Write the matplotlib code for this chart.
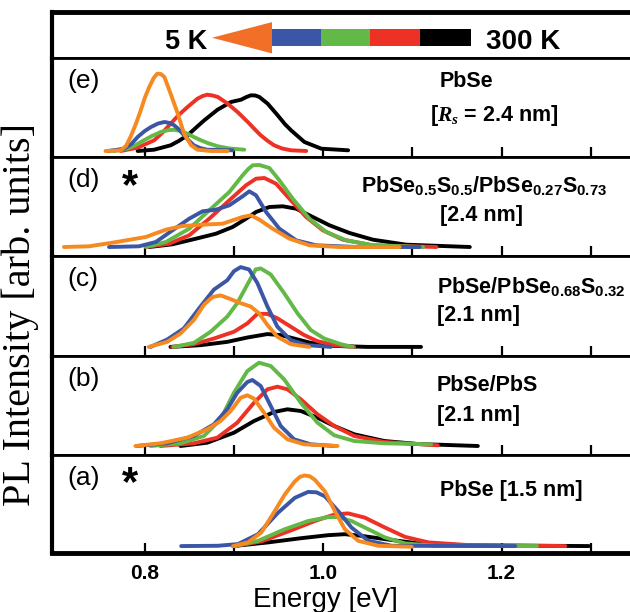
import numpy as np
import matplotlib.pyplot as plt
from matplotlib.patches import Polygon, Rectangle

# ----------------------------------------------------------------------------------------------------
# PL spectra (energy [eV], intensity [arb. units]) for each sample, 5 K (orange) ... 300 K (black)
# ----------------------------------------------------------------------------------------------------
# (e) PbSe [Rs = 2.4 nm]
e_E_orange = [0.756, 0.773, 0.779, 0.784, 0.790, 0.7955, 0.800, 0.805, 0.810, 0.814, 0.818, 0.822, 0.829, 0.837, 0.844, 0.852, 0.859, 0.874, 0.893]
e_I_orange = [0.06, 0.067, 0.11, 0.2, 0.33, 0.467, 0.59, 0.7, 0.79, 0.833, 0.83, 0.8, 0.633, 0.433, 0.233, 0.117, 0.073, 0.06, 0.06]
e_E_blue = [0.759, 0.777, 0.785, 0.792, 0.800, 0.807, 0.815, 0.822, 0.828, 0.833, 0.839, 0.844, 0.850, 0.855, 0.862, 0.870, 0.8985]
e_I_blue = [0.06, 0.083, 0.13, 0.2, 0.26, 0.3, 0.335, 0.35, 0.34, 0.317, 0.27, 0.217, 0.16, 0.117, 0.09, 0.073, 0.067]
e_E_green = [0.7655, 0.7805, 0.790, 0.799, 0.808, 0.818, 0.826, 0.833, 0.840, 0.848, 0.855, 0.863, 0.872, 0.882, 0.895, 0.9116]
e_I_green = [0.06, 0.083, 0.12, 0.167, 0.21, 0.25, 0.268, 0.273, 0.26, 0.233, 0.2, 0.167, 0.135, 0.107, 0.085, 0.073]
e_E_red = [0.773, 0.792, 0.8105, 0.820, 0.829, 0.838, 0.848, 0.859, 0.865, 0.870, 0.876, 0.882, 0.893, 0.904, 0.9155, 0.923, 0.930, 0.938, 0.945, 0.954, 0.964, 0.981]
e_I_red = [0.06, 0.093, 0.167, 0.245, 0.333, 0.42, 0.5, 0.583, 0.61, 0.623, 0.615, 0.6, 0.533, 0.45, 0.35, 0.28, 0.217, 0.16, 0.117, 0.085, 0.067, 0.06]
e_E_black = [0.792, 0.8105, 0.829, 0.838, 0.848, 0.857, 0.8667, 0.8816, 0.8966, 0.9079, 0.914, 0.919, 0.924, 0.9285, 0.9378, 0.949, 0.957, 0.964, 0.979, 0.998, 1.028]
e_I_black = [0.06, 0.073, 0.117, 0.16, 0.217, 0.29, 0.367, 0.473, 0.55, 0.573, 0.6, 0.617, 0.615, 0.6, 0.533, 0.417, 0.33, 0.267, 0.15, 0.083, 0.067]

# (d) PbSe0.5S0.5/PbSe0.27S0.73 [2.4 nm]
d_E_orange = [0.7094, 0.7375, 0.7637, 0.8011, 0.8236, 0.8423, 0.8648, 0.8873, 0.8985, 0.9097, 0.9191, 0.9285, 0.9434, 0.9622, 0.9846, 1.0184, 1.0858]
d_I_orange = [0.09, 0.097, 0.133, 0.19, 0.263, 0.3, 0.313, 0.323, 0.357, 0.39, 0.407, 0.363, 0.273, 0.173, 0.107, 0.09, 0.09]
d_E_blue = [0.7599, 0.7936, 0.8124, 0.8311, 0.8498, 0.8648, 0.8798, 0.8948, 0.9097, 0.9172, 0.9247, 0.936, 0.9509, 0.9697, 0.9921, 1.0371, 1.1082]
d_I_blue = [0.09, 0.097, 0.14, 0.257, 0.373, 0.447, 0.463, 0.507, 0.597, 0.647, 0.607, 0.44, 0.273, 0.157, 0.107, 0.09, 0.09]
d_E_green = [0.8011, 0.8236, 0.8498, 0.8723, 0.8948, 0.9097, 0.916, 0.921, 0.9285, 0.9397, 0.9509, 0.9659, 0.9846, 1.0034, 1.0258, 1.0558, 1.112]
d_I_green = [0.09, 0.14, 0.273, 0.457, 0.64, 0.807, 0.87, 0.907, 0.91, 0.88, 0.757, 0.573, 0.373, 0.24, 0.157, 0.107, 0.09]
d_E_red = [0.8011, 0.8273, 0.8498, 0.8723, 0.8948, 0.9135, 0.9247, 0.9341, 0.9472, 0.9622, 0.9809, 0.9996, 1.0221, 1.0558, 1.127]
d_I_red = [0.09, 0.123, 0.207, 0.373, 0.557, 0.707, 0.773, 0.78, 0.723, 0.573, 0.39, 0.257, 0.163, 0.107, 0.09]
d_E_black = [0.8049, 0.8311, 0.8573, 0.8798, 0.8985, 0.9135, 0.9247, 0.9397, 0.9547, 0.9697, 0.9884, 1.0071, 1.0296, 1.0558, 1.0933, 1.1644]
d_I_black = [0.09, 0.117, 0.173, 0.223, 0.29, 0.373, 0.44, 0.49, 0.497, 0.473, 0.39, 0.307, 0.23, 0.163, 0.113, 0.09]

# (c) PbSe/PbSe0.68S0.32 [2.1 nm]
c_E_orange = [0.8045, 0.8251, 0.8401, 0.8551, 0.8663, 0.8757, 0.885, 0.8963, 0.9075, 0.9187, 0.9281, 0.9375, 0.9487, 0.9637, 0.9843]
c_I_orange = [0.09, 0.14, 0.223, 0.357, 0.507, 0.583, 0.6, 0.563, 0.523, 0.49, 0.423, 0.307, 0.19, 0.117, 0.09]
c_E_blue = [0.8064, 0.8251, 0.8438, 0.8625, 0.8775, 0.8925, 0.9, 0.9075, 0.9169, 0.9262, 0.9375, 0.9487, 0.9637, 0.9824, 1.0086]
c_I_blue = [0.09, 0.163, 0.273, 0.49, 0.657, 0.75, 0.84, 0.88, 0.857, 0.723, 0.49, 0.29, 0.157, 0.107, 0.09]
c_E_green = [0.8326, 0.8551, 0.8738, 0.8925, 0.9037, 0.915, 0.9243, 0.93, 0.9412, 0.9562, 0.9712, 0.9861, 1.0011, 1.0199, 1.033]
c_I_green = [0.09, 0.13, 0.24, 0.39, 0.523, 0.707, 0.857, 0.867, 0.807, 0.623, 0.423, 0.257, 0.173, 0.117, 0.09]
c_E_red = [0.8307, 0.8551, 0.8775, 0.9, 0.915, 0.9262, 0.9375, 0.9487, 0.9637, 0.9787, 0.9936, 1.0124, 1.0348]
c_I_red = [0.09, 0.117, 0.173, 0.24, 0.323, 0.417, 0.417, 0.373, 0.29, 0.207, 0.147, 0.107, 0.09]
c_E_black = [0.8288, 0.8625, 0.8925, 0.915, 0.9375, 0.9524, 0.9674, 0.9861, 1.0124, 1.0498, 1.1097]
c_I_black = [0.09, 0.107, 0.14, 0.183, 0.217, 0.207, 0.173, 0.13, 0.1, 0.09, 0.09]

# (b) PbSe/PbS [2.1 nm]
b_E_orange = [0.7895, 0.8176, 0.8476, 0.87, 0.885, 0.8963, 0.9075, 0.915, 0.9225, 0.9337, 0.9449, 0.9599, 0.9787, 1.0161]
b_I_orange = [0.09, 0.117, 0.173, 0.257, 0.34, 0.44, 0.573, 0.597, 0.563, 0.423, 0.273, 0.157, 0.107, 0.09]
b_E_blue = [0.7914, 0.8251, 0.8551, 0.8775, 0.8925, 0.9037, 0.915, 0.9206, 0.93, 0.9412, 0.9524, 0.9674, 0.9861, 1.0124]
b_I_blue = [0.09, 0.117, 0.19, 0.307, 0.457, 0.623, 0.73, 0.75, 0.69, 0.49, 0.29, 0.157, 0.107, 0.09]
b_E_green = [0.8064, 0.84, 0.8663, 0.885, 0.9, 0.915, 0.9281, 0.9412, 0.9562, 0.9749, 0.9936, 1.0124, 1.0348, 1.0685, 1.121]
b_I_green = [0.09, 0.117, 0.19, 0.357, 0.623, 0.84, 0.923, 0.89, 0.757, 0.523, 0.323, 0.197, 0.14, 0.117, 0.107]
b_E_red = [0.8176, 0.8551, 0.8813, 0.9037, 0.9225, 0.9375, 0.9487, 0.9599, 0.9749, 0.9936, 1.0124, 1.0348, 1.0685, 1.1285]
b_I_red = [0.09, 0.117, 0.173, 0.323, 0.523, 0.657, 0.683, 0.657, 0.557, 0.407, 0.29, 0.19, 0.13, 0.097]
b_E_black = [0.84, 0.87, 0.9, 0.9225, 0.9449, 0.9599, 0.9749, 0.9936, 1.0124, 1.0348, 1.0685, 1.106, 1.1734]
b_I_black = [0.09, 0.123, 0.223, 0.34, 0.43, 0.457, 0.44, 0.373, 0.29, 0.207, 0.14, 0.11, 0.09]

# (a) PbSe [1.5 nm]
a_E_orange = [0.8989, 0.9157, 0.9307, 0.9457, 0.9569, 0.9682, 0.974, 0.9794, 0.985, 0.9906, 1.0019, 1.0131, 1.0243, 1.0393, 1.0618, 1.0993]
a_I_orange = [0.07, 0.107, 0.207, 0.423, 0.59, 0.723, 0.77, 0.783, 0.775, 0.74, 0.623, 0.423, 0.24, 0.123, 0.073, 0.063]
a_E_blue = [0.8408, 0.882, 0.9045, 0.927, 0.9494, 0.9682, 0.9831, 0.9925, 1.0019, 1.0169, 1.0318, 1.0506, 1.0768, 1.2154]
a_I_blue = [0.07, 0.073, 0.09, 0.19, 0.407, 0.557, 0.617, 0.613, 0.573, 0.423, 0.257, 0.123, 0.073, 0.07]
a_E_green = [0.9007, 0.927, 0.9569, 0.9831, 1.0056, 1.0169, 1.0318, 1.0506, 1.0693, 1.0918, 1.1255, 1.2397]
a_I_green = [0.07, 0.123, 0.24, 0.323, 0.363, 0.363, 0.323, 0.24, 0.157, 0.097, 0.073, 0.07]
a_E_red = [0.9007, 0.9307, 0.9644, 0.9906, 1.0131, 1.0281, 1.0468, 1.0693, 1.0918, 1.118, 1.1629, 1.2715]
a_I_red = [0.07, 0.117, 0.23, 0.323, 0.39, 0.4, 0.357, 0.257, 0.163, 0.107, 0.08, 0.07]
a_E_black = [0.8989, 0.9382, 0.9757, 1.0056, 1.0243, 1.0431, 1.0693, 1.1067, 1.1629, 1.2978]
a_I_black = [0.07, 0.107, 0.15, 0.18, 0.19, 0.173, 0.14, 0.097, 0.077, 0.07]

# パネルラベルとサンプル名
panel_tags = ['(e)', '(d)', '(c)', '(b)', '(a)']
panel_star = [False, True, False, False, True]
sample_names = [
	'PbSe',
	r'PbSe$_{\mathbf{0.5}}$S$_{\mathbf{0.5}}$/PbSe$_{\mathbf{0.27}}$S$_{\mathbf{0.73}}$',
	r'PbSe/PbSe$_{\mathbf{0.68}}$S$_{\mathbf{0.32}}$',
	'PbSe/PbS',
	'PbSe [1.5 nm]',
]
sample_sizes = [r'[$R_s$ = 2.4 nm]', '[2.4 nm]', '[2.1 nm]', '[2.1 nm]', '']

tick_values = [0.8, 0.9, 1.0, 1.1, 1.2, 1.3]
tick_labels = ['0.8', '', '1.0', '', '1.2', '']

# 温度ごとの色 (5 K -> 300 K)
ORANGE = '#F6891F'
BLUE = '#3B56A5'
GREEN = '#63B947'
RED = '#EE3125'
BLACK = '#000000'


# ----------------------------------------------------------------------------------------------------
# 描画設定
# ----------------------------------------------------------------------------------------------------
plt.rcParams['font.family'] = ['Liberation Sans', 'DejaVu Sans']
plt.rcParams['mathtext.fontset'] = 'custom'
plt.rcParams['mathtext.rm'] = 'Liberation Sans:bold'
plt.rcParams['mathtext.bf'] = 'Liberation Sans:bold'
plt.rcParams['mathtext.it'] = 'Liberation Serif:bold:italic'

fig = plt.figure(figsize=(6.3, 6.12), dpi=100)
W, H = 630.0, 612.0

# 枠の位置 (px, 上から)
LEFT, RIGHT = 52.0, 643.0
rows = [12, 58, 157, 256, 356, 455, 553]
XMIN = 0.696
XMAX = XMIN + (RIGHT - LEFT) / 892.0


def add_panel(top, bottom):
	ax = fig.add_axes([LEFT / W, (H - bottom) / H, (RIGHT - LEFT) / W, (bottom - top) / H])
	for side in ['left', 'top', 'bottom', 'right']:
		ax.spines[side].set_linewidth(2.0)
	ax.spines['left'].set_linewidth(3.0)
	ax.set_yticks([])
	return ax


def px2hx(x):
	return (x - LEFT) / (RIGHT - LEFT)


# ----------------------------------------------------------------------------------------------------
# ヘッダ (5 K <- 300 K の矢印)
# ----------------------------------------------------------------------------------------------------
hx = add_panel(rows[0], rows[1])
hx.spines['top'].set_linewidth(3.5)
hx.set_xlim(0, 1)
hx.set_ylim(0, 1)
hx.set_xticks([])

hx.add_patch(Polygon([[px2hx(212), 0.44], [px2hx(272), 0.78], [px2hx(272), 0.10]],
	closed=True, facecolor='#F26F27', edgecolor='none'))
bar_edges = [272, 321, 370, 420, 471]
for (i, col) in enumerate([BLUE, GREEN, RED, BLACK]):
	hx.add_patch(Rectangle((px2hx(bar_edges[i]), 0.27), px2hx(bar_edges[i + 1]) - px2hx(bar_edges[i]), 0.35,
		facecolor=col, edgecolor='none'))
hx.text(px2hx(207), 0.35, '5 K', ha='right', va='center', fontsize=19.5, fontweight='bold')
hx.text(px2hx(486), 0.35, '300 K', ha='left', va='center', fontsize=20, fontweight='bold')


# ----------------------------------------------------------------------------------------------------
# スペクトルパネル
# ----------------------------------------------------------------------------------------------------
spectra = [
	[(e_E_black, e_I_black), (e_E_red, e_I_red), (e_E_green, e_I_green), (e_E_blue, e_I_blue), (e_E_orange, e_I_orange)],
	[(d_E_black, d_I_black), (d_E_red, d_I_red), (d_E_green, d_I_green), (d_E_blue, d_I_blue), (d_E_orange, d_I_orange)],
	[(c_E_black, c_I_black), (c_E_red, c_I_red), (c_E_green, c_I_green), (c_E_blue, c_I_blue), (c_E_orange, c_I_orange)],
	[(b_E_black, b_I_black), (b_E_red, b_I_red), (b_E_green, b_I_green), (b_E_blue, b_I_blue), (b_E_orange, b_I_orange)],
	[(a_E_black, a_I_black), (a_E_red, a_I_red), (a_E_green, a_I_green), (a_E_blue, a_I_blue), (a_E_orange, a_I_orange)],
]
colors = [BLACK, RED, GREEN, BLUE, ORANGE]

for idx in range(5):
	ax = add_panel(rows[idx + 1], rows[idx + 2])
	ax.set_xlim(XMIN, XMAX)
	ax.set_ylim(0, 0.99)

	for ((x, y), col) in zip(spectra[idx], colors):
		ax.plot(x, y, color=col, lw=2.8, solid_capstyle='round', solid_joinstyle='round')

	ax.set_xticks(tick_values)
	ax.tick_params(axis='x', direction='in', length=7, width=1.6, top=False)
	if idx == 4:
		ax.spines['bottom'].set_linewidth(3.5)
		ax.set_xticklabels(tick_labels, fontsize=15, fontweight='bold')
		ax.tick_params(axis='x', pad=8)
	else:
		ax.set_xticklabels([])

	# パネル記号
	ax.text(0.026, 0.77, panel_tags[idx], transform=ax.transAxes, fontsize=19, va='center', ha='left')
	if panel_star[idx]:
		ax.text(0.118, 0.70, '*', transform=ax.transAxes, fontsize=30, fontweight='bold', va='center', ha='left')

	# サンプル名
	if idx == 0:
		ax.text(px2hx(440), 0.76, sample_names[idx], transform=ax.transAxes, fontsize=15.5, fontweight='bold', va='center')
		ax.text(px2hx(430), 0.42, sample_sizes[idx], transform=ax.transAxes, fontsize=15.5, fontweight='bold', va='center')
	elif idx == 1:
		ax.text(px2hx(361), 0.71, sample_names[idx], transform=ax.transAxes, fontsize=15.5, fontweight='bold', va='center')
		ax.text(px2hx(440), 0.41, sample_sizes[idx], transform=ax.transAxes, fontsize=15.5, fontweight='bold', va='center')
	elif idx == 4:
		ax.text(px2hx(440), 0.64, sample_names[idx], transform=ax.transAxes, fontsize=15.5, fontweight='bold', va='center')
	else:
		ax.text(px2hx(437), 0.70, sample_names[idx], transform=ax.transAxes, fontsize=15.5, fontweight='bold', va='center')
		ax.text(px2hx(437), 0.40, sample_sizes[idx], transform=ax.transAxes, fontsize=15.5, fontweight='bold', va='center')

# 軸ラベル
fig.text(20 / W, (H - 315) / H, 'PL Intensity [arb. units]', rotation=90, ha='center', va='center',
	fontsize=29, family=['Liberation Serif', 'DejaVu Serif'])
fig.text(325 / W, (H - 600) / H, 'Energy [eV]', ha='center', va='center', fontsize=20)

plt.savefig('out.png', dpi=100)
plt.close(fig)
